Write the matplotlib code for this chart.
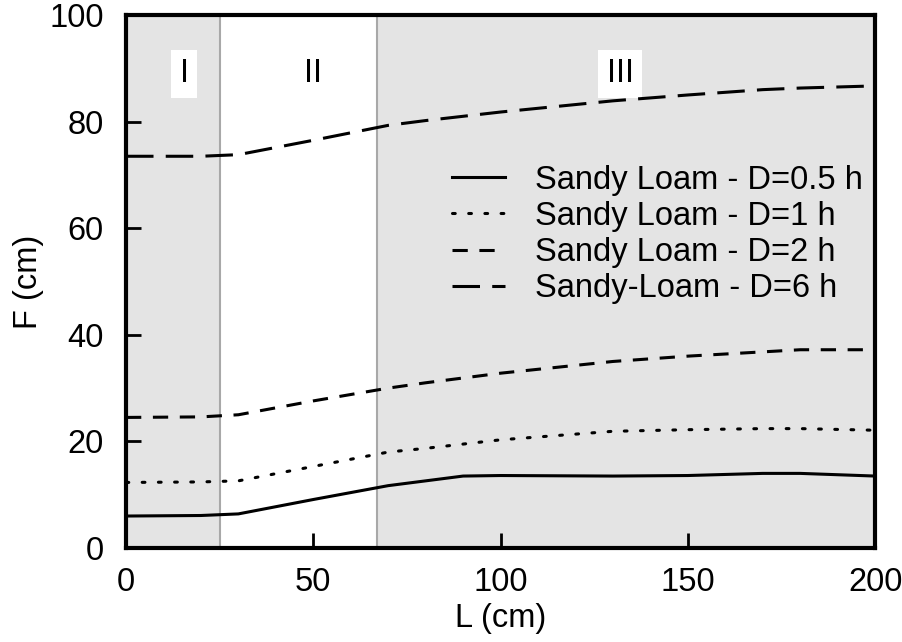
import numpy as np
import matplotlib
matplotlib.use("Agg")
import matplotlib.pyplot as plt

plt.rcParams['font.family'] = ['Liberation Sans', 'DejaVu Sans']

# data
L = [0, 20, 30, 50, 70, 80, 90, 100, 130, 150, 170, 180, 200]
F_05h = [6.0, 6.1, 6.4, 9.1, 11.7, 12.6, 13.5, 13.6, 13.5, 13.6, 14.0, 14.0, 13.5]
F_1h = [12.3, 12.4, 12.6, 15.3, 18.0, 18.7, 19.5, 20.3, 21.9, 22.2, 22.4, 22.4, 22.1]
F_2h = [24.5, 24.6, 25.0, 27.6, 30.0, 31.0, 31.9, 32.8, 35.0, 36.0, 36.8, 37.2, 37.2]
F_6h = [73.5, 73.5, 73.8, 76.5, 79.3, 80.2, 81.0, 81.8, 83.9, 85.0, 86.0, 86.3, 86.7]

labels = ['Sandy Loam - D=0.5 h', 'Sandy Loam - D=1 h',
          'Sandy Loam - D=2 h', 'Sandy-Loam - D=6 h']

# zone limits and names
zone_edges = [0, 25, 67, 200]
zone_names = ['I', 'II', 'III']
zone_label_x = [15.5, 50, 132]

fs = 23.5

fig = plt.figure(figsize=(9.02, 6.42), dpi=100)
ax = fig.add_axes([0.1397, 0.1464, 0.8305, 0.8302])

# shaded zones
ax.axvspan(zone_edges[0], zone_edges[1], color='#e4e4e4', lw=0, zorder=0)
ax.axvspan(zone_edges[2], zone_edges[3], color='#e4e4e4', lw=0, zorder=0)
for xe in zone_edges[1:3]:
    ax.axvline(xe, color='#a8a8a8', lw=1.5, zorder=1)

for name, xz in zip(zone_names, zone_label_x):
    ax.text(xz, 89.0, name, ha='center', va='center', fontsize=fs,
            bbox=dict(facecolor='white', edgecolor='none', pad=6), zorder=2)

lw = 2.2
ax.plot(L, F_05h, color='black', lw=lw, label=labels[0], zorder=3)
ax.plot(L, F_1h, color='black', lw=lw, dashes=(0.9, 4.4), dash_capstyle='round',
        label=labels[1], zorder=3)
ax.plot(L, F_2h, color='black', lw=lw, dashes=(5.0, 3.8), label=labels[2], zorder=3)
ax.plot(L, F_6h, color='black', lw=lw, dashes=(9.0, 4.0), label=labels[3], zorder=3)

ax.set_xlim(0, 200)
ax.set_ylim(0, 100)
ax.set_xticks([0, 50, 100, 150, 200])
ax.set_yticks([0, 20, 40, 60, 80, 100])
ax.tick_params(direction='in', length=11, width=2, labelsize=fs,
               top=False, right=False)
ax.tick_params(axis='x', pad=14)
ax.tick_params(axis='y', pad=16)
for s in ax.spines.values():
    s.set_linewidth(3)

ax.set_xlabel('L (cm)', fontsize=fs, labelpad=3)
ax.set_ylabel('F (cm)', fontsize=fs, labelpad=4)

ax.legend(loc='upper left', bbox_to_anchor=(0.418, 0.744), frameon=False,
          fontsize=fs, handlelength=1.63, handletextpad=0.9, labelspacing=0.16,
          borderaxespad=0)

fig.savefig('out.png', dpi=100)
